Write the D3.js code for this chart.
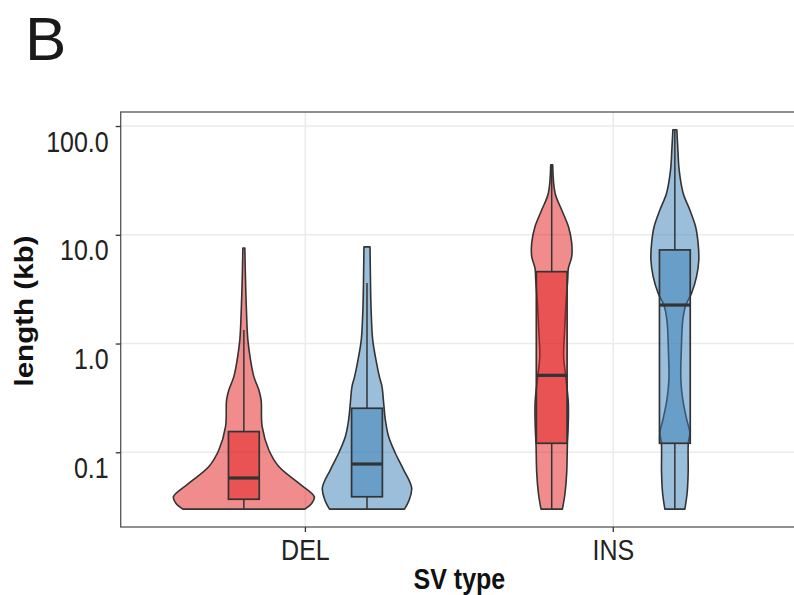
<!DOCTYPE html>
<html>
<head>
<meta charset="utf-8">
<script src="https://cdn.jsdelivr.net/npm/d3@7"></script>
<style>
  body { margin: 0; background: #fff; }
  svg { font-family: "Liberation Sans", Arial, Helvetica, sans-serif; }
</style>
</head>
<body>
<div id="chart"></div>
<script>
// SV types on the x axis, two call sets dodged inside each type
const svTypes = ["DEL", "INS"];
const callSets = ["set1", "set2"];
const setColors = ["#E41A1C", "#377EB8"];

// y ticks (kb)
const yTicks = [0.1, 1, 10, 100];

// violin profiles: [length kb, relative density]
const violinDel1 = [[0.030, 0.865], [0.034, 0.965], [0.039, 1.0], [0.052, 0.78], [0.074, 0.496],
  [0.105, 0.355], [0.172, 0.26], [0.303, 0.245], [0.374, 0.213], [0.496, 0.142], [0.706, 0.095],
  [1.08, 0.057], [2.18, 0.035], [4.46, 0.021], [7.57, 0.014]];
const violinDel2 = [[0.030, 0.532], [0.036, 0.596], [0.047, 0.634], [0.069, 0.52], [0.098, 0.403],
  [0.139, 0.308], [0.198, 0.261], [0.282, 0.237], [0.402, 0.213], [0.496, 0.176], [0.757, 0.119],
  [1.08, 0.081], [2.18, 0.057], [4.46, 0.048], [7.74, 0.043]];
const violinIns1 = [[0.030, 0.152], [0.042, 0.189], [0.065, 0.213], [0.121, 0.223], [0.160, 0.232],
  [0.284, 0.236], [0.496, 0.199], [0.757, 0.17], [1.33, 0.184], [2.52, 0.206], [3.85, 0.227],
  [4.93, 0.237], [6.30, 0.284], [8.37, 0.284], [11.9, 0.237], [16.9, 0.142], [24.1, 0.048], [44.0, 0.014]];
const violinIns2 = [[0.030, 0.142], [0.042, 0.174], [0.065, 0.189], [0.121, 0.191], [0.151, 0.213],
  [0.198, 0.17], [0.303, 0.113], [0.462, 0.085], [0.873, 0.092], [1.65, 0.113], [2.26, 0.156],
  [2.90, 0.237], [4.12, 0.308], [5.87, 0.34], [8.37, 0.33], [11.9, 0.294], [16.9, 0.213],
  [24.1, 0.118], [39.5, 0.061], [60.4, 0.043], [92.5, 0.028]];

// box stats, order: DEL set1, DEL set2, INS set1, INS set2
const boxLow    = [0.030, 0.030, 0.030, 0.030];
const boxQ1     = [0.037, 0.039, 0.121, 0.121];
const boxMedian = [0.058, 0.078, 0.51, 2.26];
const boxQ3     = [0.155, 0.254, 4.58, 7.26];
const boxHigh   = [1.33, 3.6, 44.0, 92.5];

const violins = [violinDel1, violinDel2, violinIns1, violinIns2];
const groupType = ["DEL", "DEL", "INS", "INS"];
const groupSet = ["set1", "set2", "set1", "set2"];

const W = 794, H = 595;
const margin = { top: 112, right: -4, bottom: 68, left: 120.7 };
const width = W - margin.left - margin.right;
const height = H - margin.top - margin.bottom;
const stretch = 1.16; // text in the source is a bit taller than wide
const ink = "#333333";

const svg = d3.select("#chart").append("svg")
    .attr("width", W)
    .attr("height", H);

const g = svg.append("g")
    .attr("transform", `translate(${margin.left},${margin.top})`);

const x = d3.scaleBand()
    .domain(svTypes)
    .range([0, width])
    .paddingInner(0)
    .paddingOuter(0.1);

const xSet = d3.scaleBand()
    .domain(callSets)
    .range([0, x.bandwidth() * 0.8]);

const y = d3.scaleLog()
    .domain([Math.pow(10, -1.687), Math.pow(10, 2.129)])
    .range([height, 0]);

const color = d3.scaleOrdinal().domain(callSets).range(setColors);

const vWidth = d3.scaleLinear().domain([0, 1]).range([0, xSet.bandwidth() * 0.572]);
const boxW = xSet.bandwidth() * 0.25;

const centerX = i => x(groupType[i]) + x.bandwidth() * 0.1 + xSet(groupSet[i]) + xSet.bandwidth() / 2;

// panel grid
g.append("g").selectAll("line.hgrid")
    .data(yTicks)
    .join("line")
    .attr("x1", 0).attr("x2", width)
    .attr("y1", d => y(d)).attr("y2", d => y(d))
    .attr("stroke", "#EBEBEB").attr("stroke-width", 1.6);

g.append("g").selectAll("line.vgrid")
    .data(svTypes)
    .join("line")
    .attr("x1", d => x(d) + x.bandwidth() / 2).attr("x2", d => x(d) + x.bandwidth() / 2)
    .attr("y1", 0).attr("y2", height)
    .attr("stroke", "#EBEBEB").attr("stroke-width", 1.6);

// violins
violins.forEach((v, i) => {
    const cx = centerX(i);
    const area = d3.area()
        .curve(d3.curveCatmullRom.alpha(0.5))
        .y(d => y(d[0]))
        .x0(d => cx - vWidth(d[1]))
        .x1(d => cx + vWidth(d[1]));
    g.append("path")
        .datum(v)
        .attr("d", area)
        .attr("fill", color(groupSet[i]))
        .attr("fill-opacity", 0.5)
        .attr("stroke", ink)
        .attr("stroke-width", 1.6)
        .attr("stroke-linejoin", "round");
});

// boxplots
const boxes = g.append("g").selectAll("g.box")
    .data(d3.range(violins.length))
    .join("g")
    .attr("class", "box");

boxes.append("line")
    .attr("x1", centerX).attr("x2", centerX)
    .attr("y1", i => y(boxLow[i])).attr("y2", i => y(boxQ1[i]))
    .attr("stroke", ink).attr("stroke-width", 1.5);

boxes.append("line")
    .attr("x1", centerX).attr("x2", centerX)
    .attr("y1", i => y(boxQ3[i])).attr("y2", i => y(boxHigh[i]))
    .attr("stroke", ink).attr("stroke-width", 1.5);

boxes.append("rect")
    .attr("x", i => centerX(i) - boxW / 2)
    .attr("width", boxW)
    .attr("y", i => y(boxQ3[i]))
    .attr("height", i => y(boxQ1[i]) - y(boxQ3[i]))
    .attr("fill", i => color(groupSet[i]))
    .attr("fill-opacity", 0.5)
    .attr("stroke", ink)
    .attr("stroke-width", 1.7);

boxes.append("line")
    .attr("x1", i => centerX(i) - boxW / 2).attr("x2", i => centerX(i) + boxW / 2)
    .attr("y1", i => y(boxMedian[i])).attr("y2", i => y(boxMedian[i]))
    .attr("stroke", ink).attr("stroke-width", 3.2);

// panel border
g.append("rect")
    .attr("width", width).attr("height", height)
    .attr("fill", "none")
    .attr("stroke", "#555").attr("stroke-width", 1.3);

// axes
const yAxisG = g.append("g")
    .call(d3.axisLeft(y).tickValues(yTicks).tickFormat(d3.format(".1f")).tickSize(5).tickPadding(7));
const xAxisG = g.append("g")
    .attr("transform", `translate(0,${height})`)
    .call(d3.axisBottom(x).tickSize(5));

[yAxisG, xAxisG].forEach(a => {
    a.select(".domain").remove();
    a.selectAll(".tick line").attr("stroke", ink).attr("stroke-width", 1.3);
    a.selectAll(".tick text")
        .attr("fill", "#222")
        .attr("font-size", 25)
        .attr("font-family", "'Liberation Sans', Arial, sans-serif");
});

yAxisG.selectAll(".tick text")
    .attr("y", 0).attr("dy", "0.35em")
    .attr("transform", `translate(0,15) scale(1,${stretch})`);

xAxisG.selectAll(".tick text")
    .attr("y", 0).attr("dy", "0.35em")
    .attr("transform", `translate(0,23) scale(1,${stretch})`);

// axis titles
svg.append("text")
    .attr("transform", `translate(${margin.left + width / 2},579) scale(1,${stretch})`)
    .attr("text-anchor", "middle")
    .attr("dy", "0.35em")
    .attr("font-size", 25)
    .attr("font-weight", "bold")
    .attr("fill", "#111")
    .text("SV type");

svg.append("text")
    .attr("transform", `translate(24,311) rotate(-90) scale(${stretch},1)`)
    .attr("text-anchor", "middle")
    .attr("dy", "0.35em")
    .attr("font-size", 25.5)
    .attr("font-weight", "bold")
    .attr("fill", "#111")
    .text("length (kb)");

// panel tag
svg.append("text")
    .attr("x", 25)
    .attr("y", 60)
    .attr("font-size", 62)
    .attr("fill", "#1a1a1a")
    .text("B");
</script>
</body>
</html>
